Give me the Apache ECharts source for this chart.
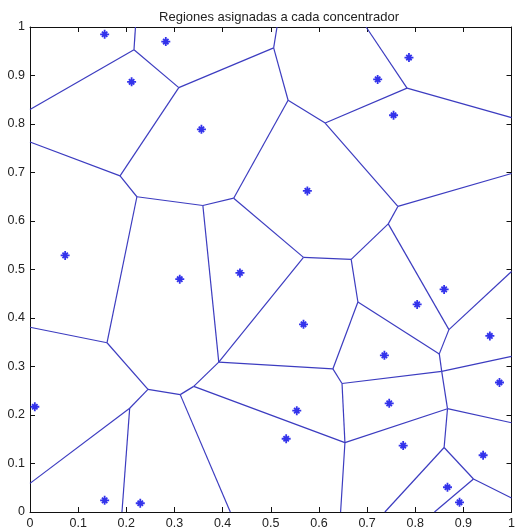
<!DOCTYPE html>
<html>
<head>
<meta charset="utf-8">
<script src="https://cdn.jsdelivr.net/npm/echarts@6/dist/echarts.min.js"></script>
<style>html,body{margin:0;padding:0;background:#fff;}#c{width:518px;height:530px;}</style>
</head>
<body>
<div id="c"></div>
<script>
var titleText = 'Regiones asignadas a cada concentrador';
var tickValues = [0,0.1,0.2,0.3,0.4,0.5,0.6,0.7,0.8,0.9,1];

// concentrator positions (stars)
var pointX = [0.155,0.282,0.211,0.356,0.073,0.787,0.722,0.755,0.576,0.010,0.155,0.229,0.311,0.436,0.568,0.736,0.746,0.775,0.554,0.532,0.860,0.804,0.955,0.975,0.941,0.867,0.892];
var pointY = [0.985,0.970,0.887,0.789,0.529,0.937,0.892,0.818,0.662,0.217,0.024,0.018,0.480,0.493,0.387,0.323,0.224,0.137,0.209,0.151,0.459,0.428,0.363,0.267,0.117,0.051,0.020];

// Voronoi vertices
var vertexNames = ['T1','V1','L1','V2','V3','T2','V16','V4','L2','V5','V6','V8','V15','V17','T3','R1','V11','R2','V14','V12','V13','V9','V7','L3','V18','V19','V20','L4','B1','B2','V21','V22','V24','V25','V23','B3','V28','V29','R3','V26','R4','V27','R5','V30','B4','V31','R6','B5'];
var vertexX = [0.219,0.216,0,0.309,0.506,0.513,0.536,0.187,0,0.222,0.359,0.423,0.613,0.783,0.698,1,0.764,1,0.744,0.568,0.667,0.392,0.160,0,0.245,0.312,0.207,0,0.191,0.416,0.340,0.629,0.681,0.648,0.654,0.645,0.850,0.870,1,0.855,1,0.867,1,0.860,0.737,0.921,1,0.840];
var vertexY = [1,0.953,0.830,0.875,0.957,1,0.849,0.693,0.763,0.650,0.632,0.647,0.802,0.874,1,0.813,0.630,0.698,0.594,0.525,0.521,0.309,0.349,0.381,0.253,0.242,0.214,0.059,0,0,0.259,0.295,0.433,0.265,0.143,0,0.326,0.376,0.496,0.290,0.321,0.213,0.184,0.133,0,0.068,0.029,0];

// region boundaries (pairs of vertex names)
var edgeFrom = ['T1','V1','V1','V2','V3','V3','V2','V4','V4','V5','V5','V6','V6','V8','V8','V16','V15','V17','V17','V15','V11','V11','V14','V14','V12','V13','V9','V9','V9','V7','V7','V18','V18','V20','V20','V19','V19','V21','V22','V22','V24','V25','V25','V23','V23','V28','V29','V28','V26','V26','V27','V27','V30','V30','V31','V31'];
var edgeTo   = ['V1','L1','V2','V3','T2','V16','V4','L2','V5','V6','V7','V8','V9','V16','V12','V15','V17','T3','R1','V11','R2','V14','V13','V29','V13','V24','V12','V21','V22','L3','V18','V19','V20','L4','B1','B2','V21','V23','V24','V25','V28','V23','V26','B3','V27','V29','R3','V26','R4','V27','R5','V30','B4','V31','R6','B5'];

function vIdx(n){ return vertexNames.indexOf(n); }
var segs = [];
for (var i = 0; i < edgeFrom.length; i++) {
  var a = vIdx(edgeFrom[i]), b = vIdx(edgeTo[i]);
  segs.push({coords: [[vertexX[a], vertexY[a]], [vertexX[b], vertexY[b]]]});
}
var pts = pointX.map(function(x, i){ return [x, pointY[i]]; });

var chart = echarts.init(document.getElementById('c'), null, {renderer: 'canvas'});
var fontFam = '"Liberation Sans", Arial, sans-serif';
function mkAxis(pos, show) {
  return {
    type: 'value', min: 0, max: 1, interval: 0.1, position: pos,
    axisLine: {show: true, onZero: false, lineStyle: {color: '#111', width: 1}},
    axisTick: {show: true, inside: true, length: 5, lineStyle: {color: '#111', width: 1}},
    axisLabel: {show: show, color: '#222', fontSize: 12.5, fontFamily: fontFam, margin: 5,
      formatter: function(v){ return String(Math.round(v*10)/10); }},
    splitLine: {show: false}
  };
}
var xa = mkAxis('bottom', true), xb = mkAxis('top', false);
var ya = mkAxis('left', true), yb = mkAxis('right', false);
chart.setOption({
  animation: false,
  backgroundColor: '#fff',
  title: {text: titleText, left: 274, top: 6, textAlign: 'center',
    textStyle: {fontSize: 13, fontWeight: 'normal', color: '#222', fontFamily: fontFam}},
  grid: {left: 30, top: 27, right: 2, bottom: 17},
  xAxis: [xa, xb],
  yAxis: [ya, yb],
  series: [
    {type: 'lines', coordinateSystem: 'cartesian2d', xAxisIndex: 0, yAxisIndex: 0,
     data: segs, lineStyle: {color: '#3c3cc0', width: 1.2, opacity: 1}, silent: true},
    {type: 'scatter', xAxisIndex: 0, yAxisIndex: 0, data: pts,
     symbol: 'path://M10 0 L10 20 M0 10 L20 10 M4 4 L16 16 M16 4 L4 16',
     symbolSize: 9,
     itemStyle: {color: 'none', borderColor: '#0000e6', borderWidth: 1.8}, silent: true}
  ]
});
</script>
</body>
</html>
